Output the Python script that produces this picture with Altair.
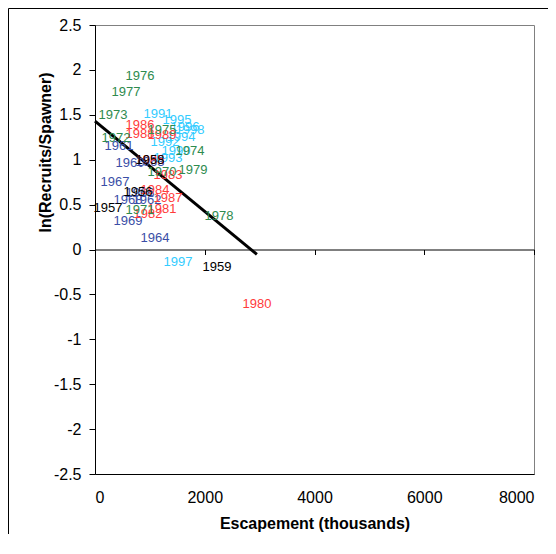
import altair as alt
import pandas as pd

# Brood years, escapement (thousands) and ln(recruits/spawner)
years = [1960, 1961, 1962, 1963, 1964, 1966, 1967, 1968, 1969,
         1990, 1991, 1992, 1993, 1994, 1995, 1996, 1997, 1998,
         1980, 1981, 1982, 1983, 1984, 1985, 1986, 1987, 1988, 1989,
         1970, 1971, 1972, 1973, 1974, 1975, 1976, 1977, 1978, 1979,
         1956, 1957, 1958, 1959]
escapement = [638, 437, 947, 1002, 1093, 820, 364, 601, 601,
              1476, 1148, 1275, 1330, 1567, 1494, 1640, 1512, 1731,
              2952, 1221, 966, 1330, 1093, 1002, 820, 1330, 820, 1221,
              1221, 820, 383, 328, 1731, 1221, 820, 565, 2259, 1786,
              783, 237, 1002, 2223]
ln_rs = [0.967, 1.156, 0.556, 0.978, 0.133, 0.633, 0.756, 0.556, 0.322,
         1.100, 1.511, 1.200, 1.022, 1.256, 1.444, 1.367, -0.144, 1.333,
         -0.611, 0.456, 0.400, 0.833, 0.667, 1.000, 1.389, 0.578, 1.289, 1.278,
         0.867, 0.444, 1.244, 1.500, 1.100, 1.333, 1.933, 1.756, 0.378, 0.889,
         0.644, 0.467, 1.000, -0.200]

decades = ["1950s", "1960s", "1970s", "1980s", "1990s"]
decade_colors = ["#000000", "#3A4EA6", "#2E8B4E", "#FF3B3B", "#33CCFF"]

# Fitted regression line end points
fit_x = [0, 2950]
fit_y = [1.43, -0.055]

x_ticks = [0, 2000, 4000, 6000, 8000]
y_ticks = [-2.5, -2, -1.5, -1, -0.5, 0, 0.5, 1, 1.5, 2, 2.5]

df = pd.DataFrame({
    "esc": escapement,
    "lnrs": ln_rs,
    "label": [str(y) for y in years],
    "decade": [f"{y // 10 * 10}s" for y in years],
    "order": list(range(len(years))),
})
fit_df = pd.DataFrame({"esc": fit_x, "lnrs": fit_y})

W, H = 439, 449
FONT = "Liberation Sans"

xscale = alt.Scale(domain=[0, 8000], nice=False, zero=False)
yscale = alt.Scale(domain=[-2.5, 2.5], nice=False, zero=False)

y_axis = alt.Axis(
    orient="left", values=y_ticks, grid=False, ticks=True, tickSize=6,
    tickColor="black", domain=True, domainColor="black", labelPadding=8,
    labelExpr="'' + datum.value",
    title="ln(Recruits/Spawner)", titleX=-50, titleY=127, titleAngle=270,
    titleAlign="center", titleBaseline="middle")

labels = alt.Chart(df).mark_text(font=FONT, fontSize=13, align="center", baseline="middle").encode(
    x=alt.X("esc:Q", scale=xscale, axis=alt.Axis(
        orient="bottom", values=x_ticks, ticks=False, tickSize=0, grid=False,
        domain=True, domainColor="black", labelPadding=15,
        labelExpr="'' + datum.value",
        title="Escapement (thousands)", titleY=49, titleBaseline="middle")),
    y=alt.Y("lnrs:Q", scale=yscale, axis=y_axis),
    text="label:N",
    color=alt.Color("decade:N", scale=alt.Scale(domain=decades, range=decade_colors), legend=None),
    order=alt.Order("order:Q"),
)

fit = alt.Chart(fit_df).mark_line(color="black", strokeWidth=3, strokeCap="butt").encode(
    x=alt.X("esc:Q", scale=xscale, axis=alt.Axis(
        orient="bottom", offset=-224.5, values=x_ticks, labels=False, ticks=True,
        tickSize=5, tickColor="black", domain=True, domainColor="black",
        grid=False, title=None)),
    y=alt.Y("lnrs:Q", scale=yscale, axis=y_axis),
)

one = pd.DataFrame({"a": [0]})
frame_left = alt.Chart(one).mark_rule(color="black", strokeWidth=1).encode(
    x=alt.value(-86.5), y=alt.value(-16.5), y2=alt.value(800)
)
frame_top = alt.Chart(one).mark_rule(color="black", strokeWidth=1).encode(
    x=alt.value(-86.5), x2=alt.value(800), y=alt.value(-16.5)
)

chart = alt.layer(frame_left, frame_top, fit, labels).resolve_axis(x="independent").properties(
    width=W, height=H,
    padding={"left": 87, "top": 17, "right": 14, "bottom": 60},
    autosize=alt.AutoSizeParams(type="none"),
).configure_view(
    stroke="#808080", strokeWidth=1
).configure_axis(
    labelFont=FONT, labelFontSize=16, labelColor="black",
    titleFont=FONT, titleFontSize=16, titleFontWeight="bold", titleColor="black",
    domainWidth=1, tickWidth=1,
)

chart.save("out.html", embed_options={"renderer": "svg", "actions": False})
